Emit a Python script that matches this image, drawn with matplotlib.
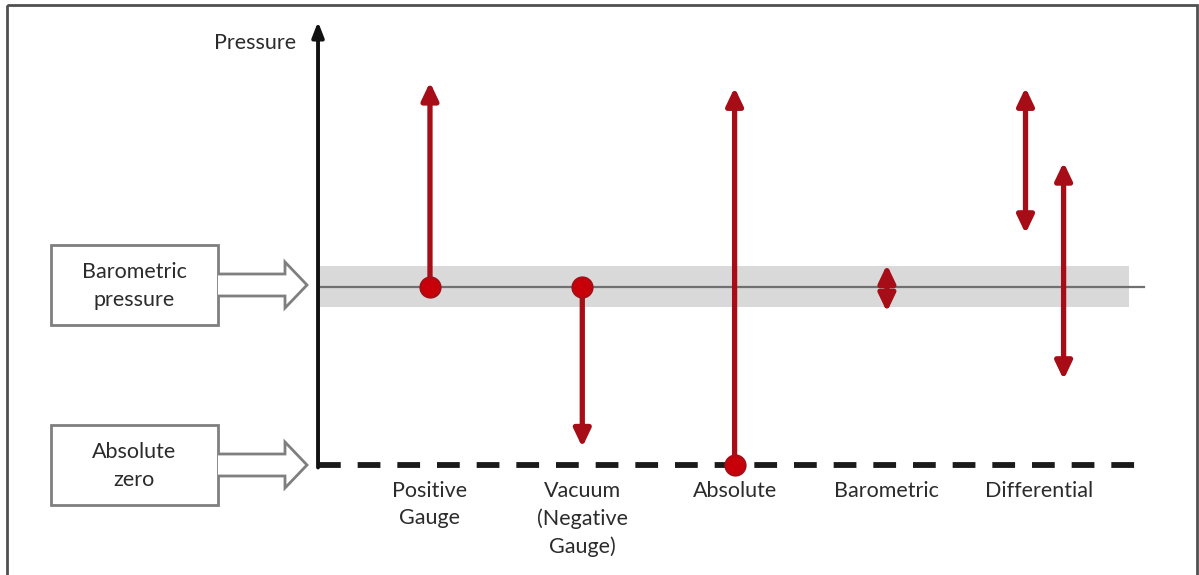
import matplotlib
matplotlib.use("Agg")
import matplotlib.pyplot as plt
from matplotlib.patches import Rectangle, Polygon

plt.rcParams['font.family'] = ['Lato', 'DejaVu Sans']

# ===============================
# DATA (pressure in units of barometric pressure, absolute zero = 0)
# ===============================
categories = ['Positive\nGauge', 'Vacuum\n(Negative\nGauge)', 'Absolute', 'Barometric', 'Differential']
cat_pos = [0, 1, 2, 3, 4]

arrow_x = [0.0, 1.0, 2.0, 3.0, 3.91, 4.16]
arrow_from = [1.0, 1.0, 0.0, 0.86, 1.30, 0.48]
arrow_to = [2.15, 0.10, 2.12, 1.125, 2.12, 1.70]
arrow_double = [False, False, False, True, True, True]

dot_x = [0.0, 1.0, 2.0]
dot_y = [1.0, 1.0, 0.0]

barometric = 1.0
baro_band = (0.89, 1.12)
absolute_zero = 0.0

red = '#a60d16'
dot_red = '#c8000a'
txt = '#2b2b2b'

# ===============================
# FIGURE
# ===============================
fig = plt.figure(figsize=(11.99, 5.75), dpi=100)

# decoration layer in pixel units (frame, side boxes)
deco = fig.add_axes([0, 0, 1, 1], zorder=0)
deco.set_xlim(0, 1199)
deco.set_ylim(575, 0)
deco.axis('off')

ax = fig.add_axes([0, 0, 1, 1], zorder=1)
ax.set_xlim(-2.823, 5.049)
ax.set_ylim(-0.618, 2.612)
ax.axis('off')
ax.patch.set_alpha(0)

# outer frame
deco.add_patch(Rectangle((7, 5), 1190, 600, fill=False, ec='#505050', lw=2))

# side boxes with block arrows
for label, cy in [('Barometric\npressure', 285), ('Absolute\nzero', 465)]:
    deco.add_patch(Rectangle((51, cy - 40), 167, 80, fc='white', ec='#7f7f7f', lw=2))
    deco.text(134, cy + 1, label, ha='center', va='center', fontsize=15.5, color=txt,
              linespacing=1.45)
    pts = [(218, cy - 11), (285, cy - 11), (285, cy - 23), (307, cy),
           (285, cy + 23), (285, cy + 11), (218, cy + 11)]
    deco.add_patch(Polygon(pts, closed=False, fc='white', ec='#7f7f7f', lw=2))

# barometric band and line
axis_x = -0.735
ax.fill_between([axis_x + 0.01, 4.59], baro_band[0], baro_band[1], color='#d9d9d9', lw=0, zorder=1)
ax.plot([axis_x, 4.69], [barometric, barometric], color='#707070', lw=1.6, zorder=2)

# absolute zero dashed line
ax.plot([axis_x, 4.63], [absolute_zero, absolute_zero], color='#1a1a1a', lw=4.2,
        linestyle=(0, (3.9, 2.9)), zorder=2)

# pressure axis
ax.annotate('', xy=(axis_x, 2.49), xytext=(axis_x, absolute_zero - 0.014),
            arrowprops=dict(arrowstyle='-|>,head_length=0.9,head_width=0.35', color='#111111',
                            lw=2.8, shrinkA=0, shrinkB=0, mutation_scale=10), zorder=3)
ax.text(axis_x - 0.145, 2.37, 'Pressure', ha='right', va='center', fontsize=15.5, color=txt)

# red arrows
for x, y0, y1, dbl in zip(arrow_x, arrow_from, arrow_to, arrow_double):
    style = '<|-|>' if dbl else '-|>'
    ax.annotate('', xy=(x, y1), xytext=(x, y0),
                arrowprops=dict(arrowstyle=style + ',head_length=1.05,head_width=0.5', color=red,
                                lw=3.8, shrinkA=0, shrinkB=0, mutation_scale=10), zorder=4)

ax.plot(dot_x, dot_y, 'o', color=dot_red, mec=red, mew=1.5, markersize=14.5, zorder=5)

# category labels
for x, lab in zip(cat_pos, categories):
    ax.text(x, -0.09, lab, ha='center', va='top', fontsize=15.5, color=txt, linespacing=1.45)

fig.savefig('out.png', dpi=100)
